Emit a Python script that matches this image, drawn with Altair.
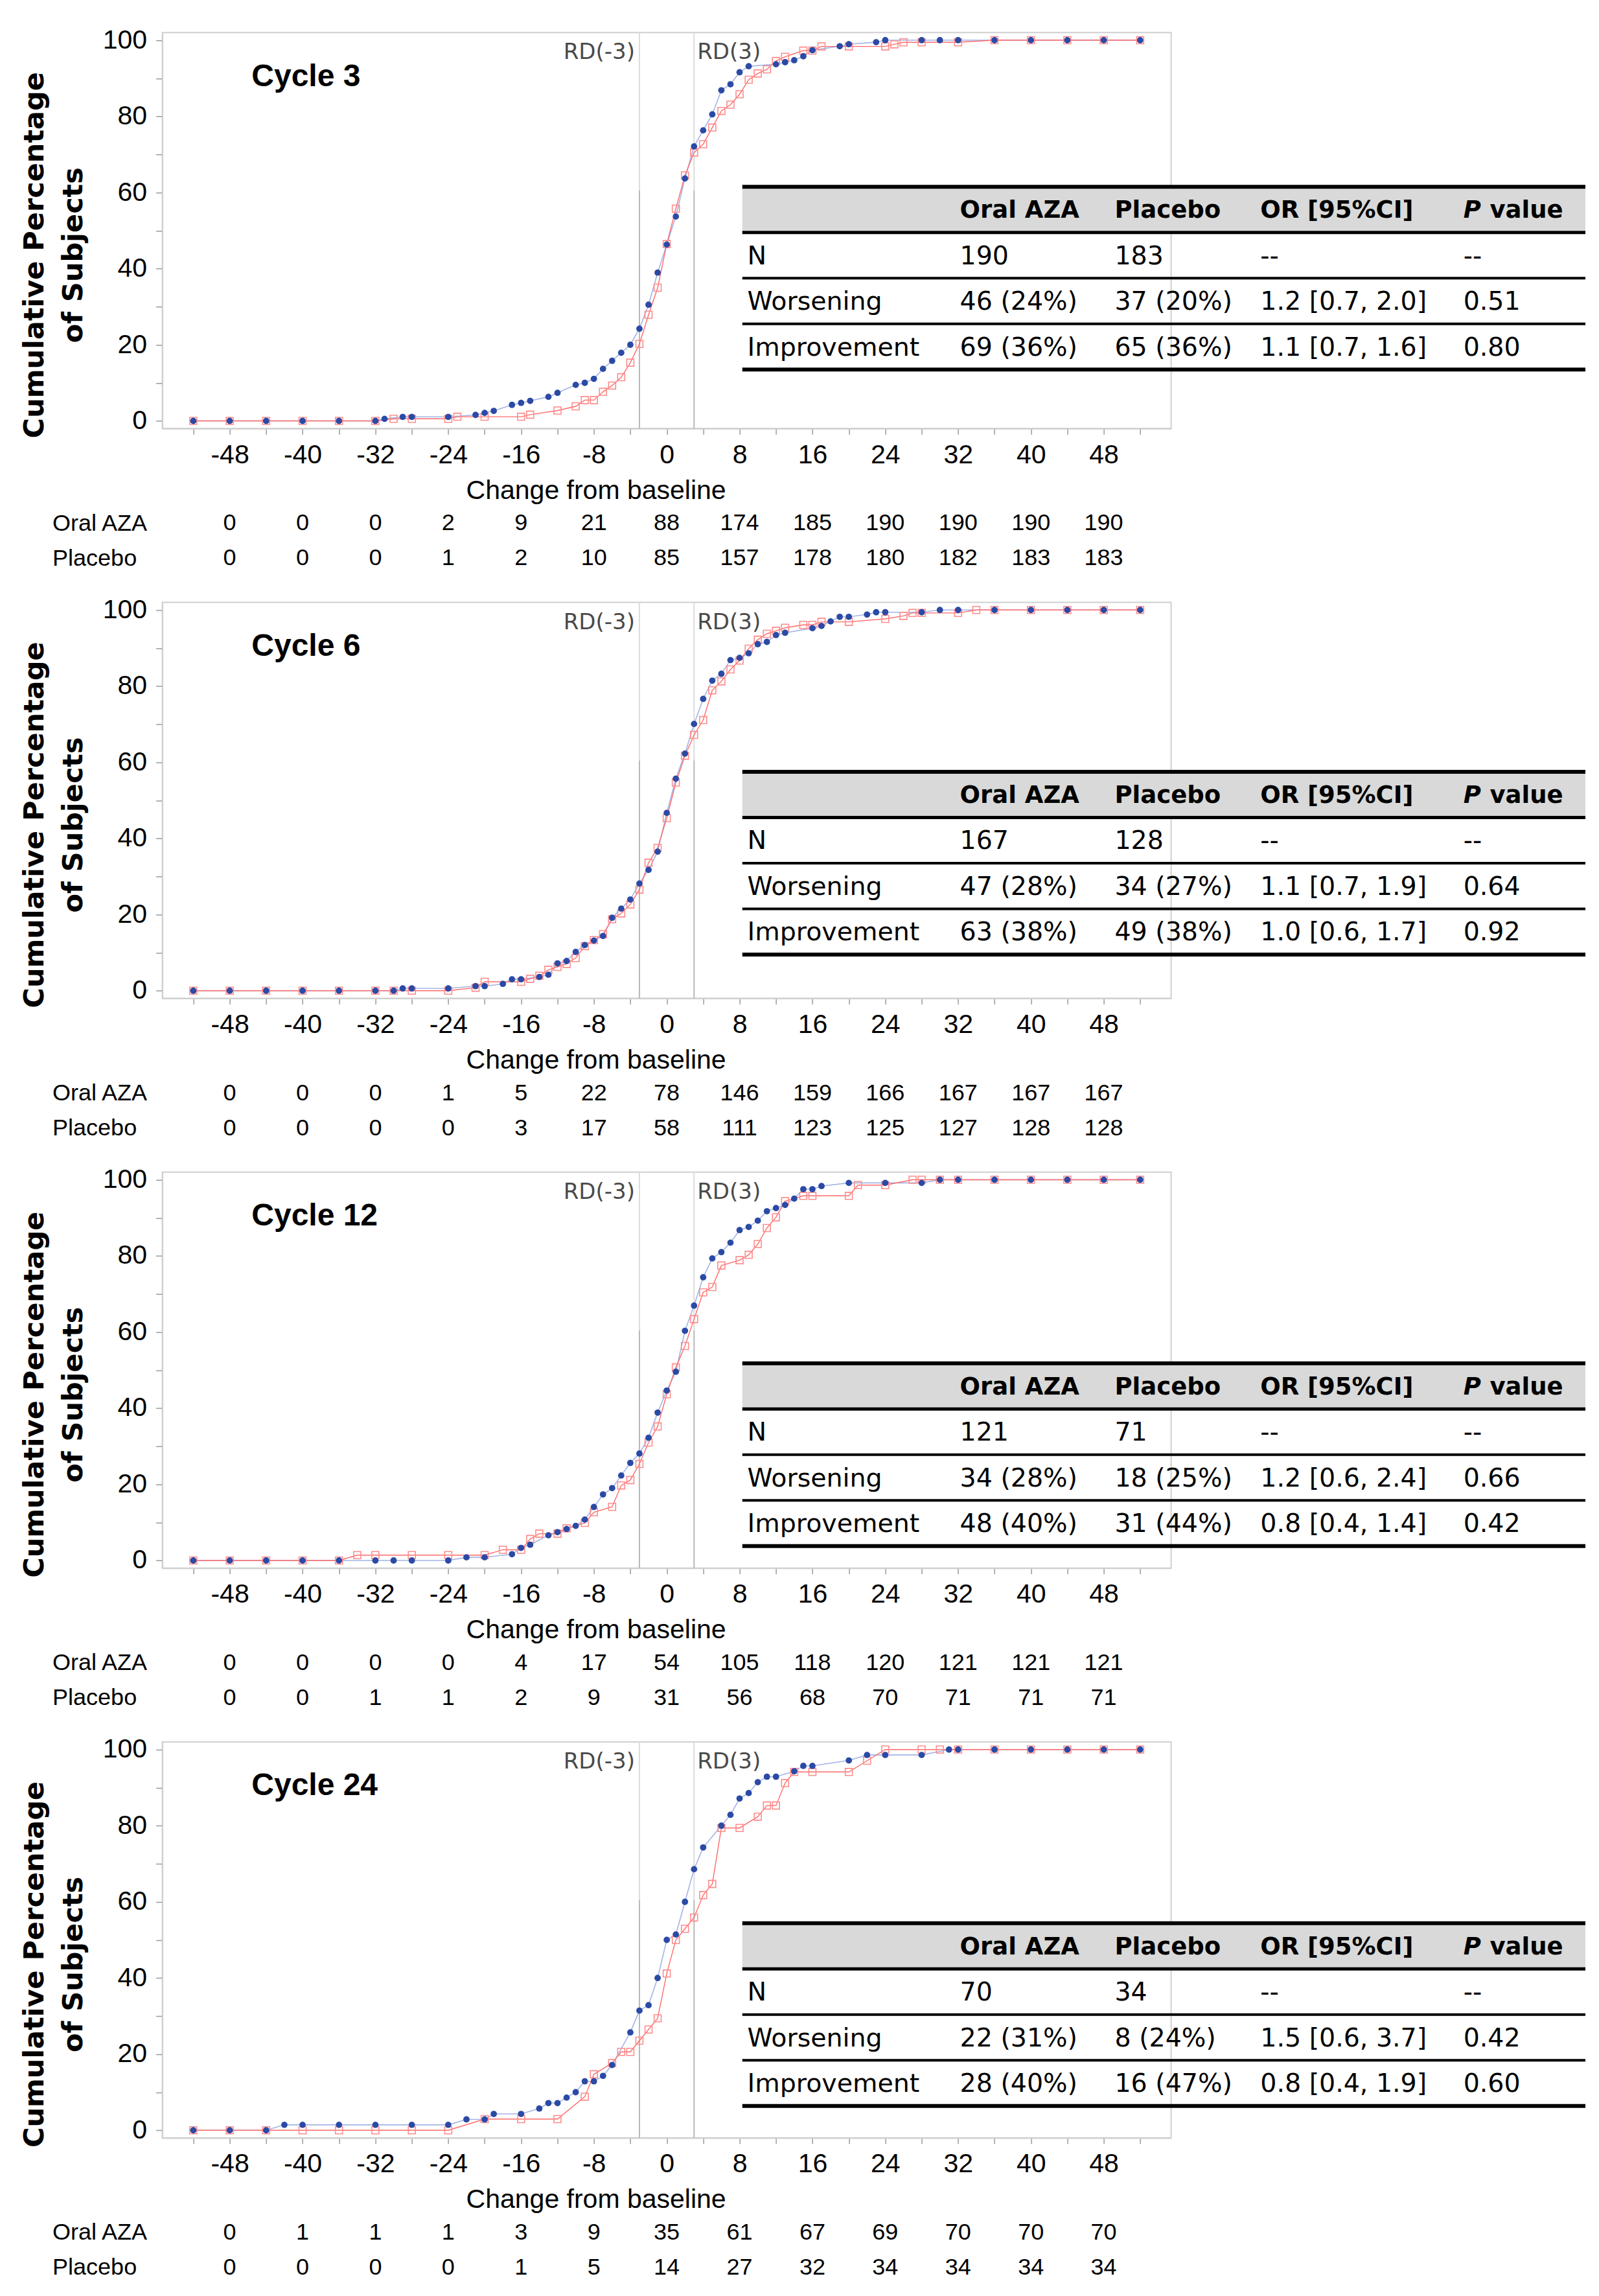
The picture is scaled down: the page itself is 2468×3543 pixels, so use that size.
import altair as alt
import pandas as pd

# ---------------- values ----------------
cycle_names = ["Cycle 3", "Cycle 6", "Cycle 12", "Cycle 24"]
n_aza = [190, 167, 121, 70]
n_pbo = [183, 128, 71, 34]

# cumulative number of subjects with change <= x, at each plotted x
c3_aza_x = [-52, -48, -44, -40, -36, -32, -31, -29, -28, -24, -21, -20, -19, -17, -16, -15, -13, -12, -10, -9,
            -8, -7, -6, -5, -4, -3, -2, -1, 0, 1, 2, 3, 4, 5, 6, 7, 8, 9, 12, 13, 14, 15, 16, 19, 20, 23, 24,
            28, 30, 32, 36, 40, 44, 48, 52]
c3_aza_cum = [0, 0, 0, 0, 0, 0, 1, 2, 2, 2, 3, 4, 5, 8, 9, 10, 12, 14, 18, 19,
              21, 26, 30, 34, 38, 46, 58, 74, 88, 102, 121, 137, 145, 153, 165, 168, 174, 177, 178, 179, 180, 182,
              185, 187, 188, 189, 190, 190, 190, 190, 190, 190, 190, 190, 190]
c3_pbo_x = [-52, -48, -44, -40, -36, -32, -30, -28, -24, -23, -20, -16, -15, -12, -10, -9, -8, -7, -6, -5, -4, -3,
            -2, -1, 0, 1, 2, 3, 4, 5, 6, 7, 8, 9, 10, 11, 12, 13, 15, 16, 17, 20, 24, 25, 26, 28, 32, 36, 40, 44,
            48, 52]
c3_pbo_cum = [0, 0, 0, 0, 0, 0, 1, 1, 1, 2, 2, 2, 3, 5, 7, 10, 10, 14, 17, 21, 28, 37,
              51, 64, 85, 102, 118, 129, 133, 141, 149, 152, 157, 164, 167, 169, 173, 175, 178, 178, 180, 180,
              180, 181, 182, 182, 182, 183, 183, 183, 183, 183]

c6_aza_x = [-52, -48, -44, -40, -36, -32, -30, -29, -28, -24, -21, -20, -18, -17, -16, -14, -13, -12, -11, -10,
            -9, -8, -7, -6, -5, -4, -3, -2, -1, 0, 1, 2, 3, 4, 5, 6, 7, 8, 9, 10, 11, 12, 13, 16, 17, 18, 19, 20,
            22, 23, 24, 28, 30, 32, 36, 40, 44, 48, 52]
c6_aza_cum = [0, 0, 0, 0, 0, 0, 0, 1, 1, 1, 2, 2, 3, 5, 5, 6, 7, 12, 13, 17,
              20, 22, 24, 32, 36, 40, 47, 53, 61, 78, 93, 104, 117, 128, 136, 139, 145, 146, 148, 152, 153, 156,
              157, 159, 160, 162, 164, 164, 165, 166, 166, 166, 167, 167, 167, 167, 167, 167, 167]
c6_pbo_x = [-52, -48, -44, -40, -36, -32, -30, -28, -24, -21, -20, -16, -15, -14, -13, -12, -11, -10, -9, -8, -7,
            -6, -5, -4, -3, -2, -1, 0, 1, 2, 3, 4, 5, 6, 7, 8, 9, 10, 11, 12, 13, 15, 16, 17, 20, 24, 26, 27, 28,
            32, 34, 36, 40, 44, 48, 52]
c6_pbo_cum = [0, 0, 0, 0, 0, 0, 0, 0, 0, 1, 3, 3, 4, 5, 7, 8, 9, 11, 15, 17, 19,
              24, 26, 29, 34, 43, 48, 58, 70, 79, 86, 91, 101, 104, 108, 111, 115, 118, 120, 121, 122, 123, 123,
              124, 124, 125, 126, 127, 127, 127, 128, 128, 128, 128, 128, 128]

c12_aza_x = [-52, -48, -44, -40, -36, -32, -30, -28, -24, -22, -20, -17, -16, -15, -13, -12, -11, -10, -9, -8,
             -7, -6, -5, -4, -3, -2, -1, 0, 1, 2, 3, 4, 5, 6, 7, 8, 9, 10, 11, 12, 13, 14, 15, 16, 17, 20, 24, 28,
             30, 32, 36, 40, 44, 48, 52]
c12_aza_cum = [0, 0, 0, 0, 0, 0, 0, 0, 0, 1, 1, 2, 4, 5, 8, 9, 10, 11, 13, 17,
               21, 23, 27, 31, 34, 39, 47, 54, 60, 73, 81, 90, 96, 98, 101, 105, 106, 108, 111, 112, 113, 115,
               118, 118, 119, 120, 120, 120, 121, 121, 121, 121, 121, 121, 121]
c12_pbo_x = [-52, -48, -44, -40, -36, -34, -32, -28, -24, -20, -18, -16, -15, -14, -12, -11, -9, -8, -6, -5, -4,
             -3, -2, -1, 0, 1, 2, 3, 4, 5, 6, 8, 9, 10, 11, 12, 13, 15, 16, 20, 21, 24, 27, 28, 30, 32, 36, 40,
             44, 48, 52]
c12_pbo_cum = [0, 0, 0, 0, 0, 1, 1, 1, 1, 1, 2, 2, 4, 5, 5, 6, 7, 9, 10, 14, 15,
               18, 22, 25, 31, 36, 40, 45, 50, 51, 55, 56, 57, 59, 62, 64, 67, 68, 68, 68, 70, 70, 71, 71, 71,
               71, 71, 71, 71, 71, 71]

c24_aza_x = [-52, -48, -44, -42, -40, -36, -32, -28, -24, -22, -20, -19, -16, -14, -13, -12, -11, -10, -9, -8,
             -7, -6, -4, -3, -2, -1, 0, 1, 2, 3, 4, 6, 7, 8, 9, 10, 11, 12, 14, 15, 16, 20, 22, 24, 28, 31, 32,
             36, 40, 44, 48, 52]
c24_aza_cum = [0, 0, 0, 1, 1, 1, 1, 1, 1, 2, 2, 3, 3, 4, 5, 5, 6, 7, 9, 9,
               10, 12, 18, 22, 23, 28, 35, 36, 42, 48, 52, 56, 58, 61, 62, 64, 65, 65, 66, 67, 67, 68, 69, 69,
               69, 70, 70, 70, 70, 70, 70, 70]
c24_pbo_x = [-52, -48, -44, -40, -36, -32, -28, -24, -20, -16, -12, -9, -8, -6, -5, -4, -3, -2, -1, 0, 1, 2, 3,
             4, 5, 6, 8, 10, 11, 12, 13, 14, 16, 20, 22, 24, 28, 30, 32, 36, 40, 44, 48, 52]
c24_pbo_cum = [0, 0, 0, 0, 0, 0, 0, 0, 1, 1, 1, 3, 5, 6, 7, 7, 8, 9, 10, 14, 17, 18, 19,
               21, 22, 27, 27, 28, 29, 29, 31, 32, 32, 32, 33, 34, 34, 34, 34, 34, 34, 34, 34, 34]

# numbers at risk rows under each panel
count_x = [-48, -40, -32, -24, -16, -8, 0, 8, 16, 24, 32, 40, 48]
c3_count_aza = [0, 0, 0, 2, 9, 21, 88, 174, 185, 190, 190, 190, 190]
c3_count_pbo = [0, 0, 0, 1, 2, 10, 85, 157, 178, 180, 182, 183, 183]
c6_count_aza = [0, 0, 0, 1, 5, 22, 78, 146, 159, 166, 167, 167, 167]
c6_count_pbo = [0, 0, 0, 0, 3, 17, 58, 111, 123, 125, 127, 128, 128]
c12_count_aza = [0, 0, 0, 0, 4, 17, 54, 105, 118, 120, 121, 121, 121]
c12_count_pbo = [0, 0, 1, 1, 2, 9, 31, 56, 68, 70, 71, 71, 71]
c24_count_aza = [0, 1, 1, 1, 3, 9, 35, 61, 67, 69, 70, 70, 70]
c24_count_pbo = [0, 0, 0, 0, 1, 5, 14, 27, 32, 34, 34, 34, 34]
count_groups = ["Oral AZA", "Placebo"]

# inset tables
table_head = ["Oral AZA", "Placebo", "OR [95%CI]"]
table_p_head = ["P", "value"]
table_rows = ["N", "Worsening", "Improvement"]
c3_table = [["190", "183", "--", "--"],
            ["46 (24%)", "37 (20%)", "1.2 [0.7, 2.0]", "0.51"],
            ["69 (36%)", "65 (36%)", "1.1 [0.7, 1.6]", "0.80"]]
c6_table = [["167", "128", "--", "--"],
            ["47 (28%)", "34 (27%)", "1.1 [0.7, 1.9]", "0.64"],
            ["63 (38%)", "49 (38%)", "1.0 [0.6, 1.7]", "0.92"]]
c12_table = [["121", "71", "--", "--"],
             ["34 (28%)", "18 (25%)", "1.2 [0.6, 2.4]", "0.66"],
             ["48 (40%)", "31 (44%)", "0.8 [0.4, 1.4]", "0.42"]]
c24_table = [["70", "34", "--", "--"],
             ["22 (31%)", "8 (24%)", "1.5 [0.6, 3.7]", "0.42"],
             ["28 (40%)", "16 (47%)", "0.8 [0.4, 1.9]", "0.60"]]

aza_x_all = [c3_aza_x, c6_aza_x, c12_aza_x, c24_aza_x]
aza_cum_all = [c3_aza_cum, c6_aza_cum, c12_aza_cum, c24_aza_cum]
pbo_x_all = [c3_pbo_x, c6_pbo_x, c12_pbo_x, c24_pbo_x]
pbo_cum_all = [c3_pbo_cum, c6_pbo_cum, c12_pbo_cum, c24_pbo_cum]
count_aza_all = [c3_count_aza, c6_count_aza, c12_count_aza, c24_count_aza]
count_pbo_all = [c3_count_pbo, c6_count_pbo, c12_count_pbo, c24_count_pbo]
tables_all = [c3_table, c6_table, c12_table, c24_table]

# ---------------- layout / style ----------------
W, H = 1557, 611
X_DOMAIN = [-55.4, 55.4]
Y_DOMAIN = [-2, 102]
X_TICKS = list(range(-52, 53, 4))
Y_TICKS = list(range(0, 101, 10))
TABLE_TOP = [61.5, 57.5, 51.8, 54.4]
TAB_X0, TAB_X1 = 8.3, 100.9
COL_X = [8.86, 32.2, 49.2, 65.2, 87.5]
P_WORD_X = 90.4
ROW_STEP = 12.0
TEXT_OFF = 6.3
RD_SPLIT = 60.5
CYCLE_POS = (-45.6, 88)
RD_Y = 95

FONT = "Liberation Sans"
TFONT = "DejaVu Sans"
BLUE = "#2b4aa5"
BLUE_LINE = "#a3b3e6"
RED = "#ff8c8c"
RED_LINE = "#ff6a6a"

X_AXIS = alt.Axis(values=X_TICKS,
                  labelExpr="datum.value % 8 == 0 ? toString(datum.value) : ''",
                  title="Change from baseline", titleX=669, titleY=96, titleAlign="center",
                  titleBaseline="middle", titleFontWeight="normal", titleFontSize=41,
                  tickSize=9, labelPadding=12, labelOverlap=False, labelFlush=False)
Y_AXIS = alt.Axis(values=Y_TICKS,
                  labelExpr="datum.value % 20 == 0 ? toString(datum.value) : ''",
                  title=["Cumulative Percentage", "of Subjects"], titleFont="DejaVu Sans",
                  titleFontSize=43, titleFontWeight="bold", titleLineHeight=60, titleAngle=270,
                  titleX=-197, titleY=343, titleAlign="center", titleBaseline="middle",
                  tickSize=10, labelPadding=14, labelOverlap=False, labelFlush=False)


def panel_plot(i):
    xs = alt.Scale(domain=X_DOMAIN, nice=False, zero=False)
    ys = alt.Scale(domain=Y_DOMAIN, nice=False, zero=False)

    def X(f="x"):
        return alt.X(f, type="quantitative", scale=xs, axis=X_AXIS)

    def Y(f="y"):
        return alt.Y(f, type="quantitative", scale=ys, axis=Y_AXIS)

    aza = pd.DataFrame({"x": aza_x_all[i], "cum": aza_cum_all[i]})
    aza["y"] = aza["cum"] / n_aza[i] * 100
    pbo = pd.DataFrame({"x": pbo_x_all[i], "cum": pbo_cum_all[i]})
    pbo["y"] = pbo["cum"] / n_pbo[i] * 100

    rd = pd.DataFrame({"x": [-3, -3, 3, 3],
                       "y": [Y_DOMAIN[0], RD_SPLIT, Y_DOMAIN[0], RD_SPLIT],
                       "y2": [RD_SPLIT, Y_DOMAIN[1], RD_SPLIT, Y_DOMAIN[1]],
                       "c": ["#b8b8b8", "#dcdcdc", "#b8b8b8", "#dcdcdc"]})
    rd_rules = alt.Chart(rd).mark_rule(strokeWidth=2).encode(
        x=X(), y=Y(), y2="y2", color=alt.Color("c:N", scale=None))

    aza_line = alt.Chart(aza).mark_line(color=BLUE_LINE, strokeWidth=1.6).encode(x=X(), y=Y())
    pbo_line = alt.Chart(pbo).mark_line(color=RED_LINE, strokeWidth=1.4).encode(x=X(), y=Y())
    pbo_pts = alt.Chart(pbo).mark_point(shape="square", filled=False, size=120, strokeWidth=1.6,
                                        color=RED, opacity=1).encode(x=X(), y=Y())
    aza_pts = alt.Chart(aza).mark_circle(size=96, color=BLUE, opacity=1).encode(x=X(), y=Y())

    cyc = pd.DataFrame({"x": [CYCLE_POS[0]], "y": [CYCLE_POS[1]], "t": [cycle_names[i]]})
    cyc_txt = alt.Chart(cyc).mark_text(align="left", baseline="alphabetic", font=FONT, fontSize=48,
                                       fontWeight="bold", color="black").encode(x=X(), y=Y(), text="t:N")

    rdl = pd.DataFrame({"x": [-3], "y": [RD_Y], "t": ["RD(-3)"]})
    rdr = pd.DataFrame({"x": [3], "y": [RD_Y], "t": ["RD(3)"]})
    rdl_txt = alt.Chart(rdl).mark_text(align="right", dx=-7, baseline="alphabetic", font=TFONT,
                                       fontSize=34, color="#4a4a4a").encode(x=X(), y=Y(), text="t:N")
    rdr_txt = alt.Chart(rdr).mark_text(align="left", dx=5, baseline="alphabetic", font=TFONT,
                                       fontSize=34, color="#4a4a4a").encode(x=X(), y=Y(), text="t:N")

    T = TABLE_TOP[i]
    band = pd.DataFrame({"x": [TAB_X0], "x2": [TAB_X1], "y": [T], "y2": [T - ROW_STEP]})
    band_rect = alt.Chart(band).mark_rect(color="#d9d9d9").encode(x=X(), x2="x2", y=Y(), y2="y2")
    rules = pd.DataFrame({"x": [TAB_X0] * 5, "x2": [TAB_X1] * 5,
                          "y": [T - ROW_STEP * k for k in range(5)],
                          "w": [6, 5, 4, 4, 6]})
    tab_rules = alt.Chart(rules).mark_rule(color="black").encode(
        x=X(), x2="x2", y=Y(), strokeWidth=alt.StrokeWidth("w:Q", scale=None))

    head = pd.DataFrame({"x": COL_X[1:4] + [P_WORD_X], "y": [T - TEXT_OFF] * 4,
                         "t": table_head + [table_p_head[1]]})
    head_txt = alt.Chart(head).mark_text(align="left", baseline="middle", font=TFONT, fontSize=37,
                                         fontWeight="bold", color="black").encode(x=X(), y=Y(), text="t:N")
    phead = pd.DataFrame({"x": [COL_X[4]], "y": [T - TEXT_OFF], "t": [table_p_head[0]]})
    phead_txt = alt.Chart(phead).mark_text(align="left", baseline="middle", font=TFONT, fontSize=37,
                                           fontWeight="bold", fontStyle="italic",
                                           color="black").encode(x=X(), y=Y(), text="t:N")
    body_rows = []
    for r, lab in enumerate(table_rows):
        yy = T - ROW_STEP * (r + 1) - TEXT_OFF
        body_rows.append({"x": COL_X[0], "y": yy, "t": lab})
        for c in range(4):
            body_rows.append({"x": COL_X[c + 1], "y": yy, "t": tables_all[i][r][c]})
    body = pd.DataFrame(body_rows)
    body_txt = alt.Chart(body).mark_text(align="left", baseline="middle", font=TFONT, fontSize=39.5,
                                         color="black").encode(x=X(), y=Y(), text="t:N")

    return alt.layer(rd_rules, aza_line, pbo_line, pbo_pts, aza_pts, cyc_txt, rdl_txt, rdr_txt,
                     band_rect, tab_rules, head_txt, phead_txt, body_txt).properties(width=W, height=H)


def panel_counts(i):
    xs = alt.Scale(domain=X_DOMAIN, nice=False, zero=False)
    cnt = pd.DataFrame({"x": count_x * 2,
                        "grp": [count_groups[0]] * len(count_x) + [count_groups[1]] * len(count_x),
                        "v": count_aza_all[i] + count_pbo_all[i]})
    return alt.Chart(cnt).mark_text(font=FONT, fontSize=36, baseline="middle", color="black").encode(
        x=alt.X("x:Q", scale=xs, axis=None),
        y=alt.Y("grp:N", sort=count_groups, scale=alt.Scale(padding=0.5),
                axis=alt.Axis(title=None, domain=False, ticks=False, tickSize=0, labelAlign="left",
                              labelPadding=170, labelFontSize=36, labelBaseline="middle")),
        text="v:Q",
    ).properties(width=W, height=108, view=alt.ViewBackground(stroke="transparent"))


panels = [alt.vconcat(panel_plot(i), panel_counts(i), spacing=1) for i in range(4)]
chart = alt.vconcat(*panels, spacing=29.25).properties(
    padding={"left": 23.6, "top": 31.25, "right": 5, "bottom": 2})
chart = chart.configure_view(stroke="#d0d0d0", strokeWidth=2).configure_axis(
    domainColor="#cfcfcf", domainWidth=2, tickColor="#9a9a9a", tickWidth=1.5,
    labelFont=FONT, labelFontSize=41, labelColor="black", titleFont=FONT, titleColor="black", grid=False)

chart.save("out.html", embed_options={"renderer": "svg", "actions": False})
